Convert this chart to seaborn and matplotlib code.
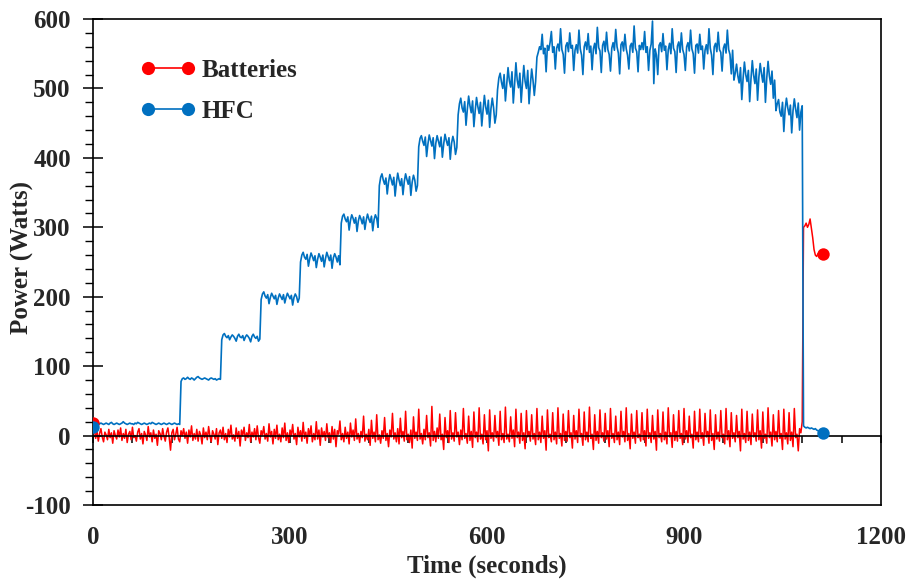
import numpy as np
import pandas as pd
import matplotlib
matplotlib.use("Agg")
import matplotlib.pyplot as plt
from matplotlib.lines import Line2D
from matplotlib.ticker import MultipleLocator
import seaborn as sns

sns.set_theme(style="white")
plt.rcParams["font.family"] = ["Liberation Serif", "DejaVu Serif"]
plt.rcParams["font.weight"] = "bold"
plt.rcParams["axes.unicode_minus"] = False

RED = "#FF0000"
BLUE = "#0070C0"

# HFC power (W), one sample every 2 s from 0 s to 1112 s
hfc_w = [
    # 0-132 s
    12, 14, 16, 17, 16, 17, 18, 17, 16, 17, 18, 17, 16, 18, 19, 17, 16, 17, 18, 17,
    16, 17, 18, 20, 18, 17, 16, 17, 18, 17, 17, 16, 18, 17, 19, 18, 17, 16, 17, 18,
    17, 16, 17, 18, 17, 19, 18, 17, 16, 17, 18, 17, 16, 17, 18, 17, 16, 17, 18, 17,
    16, 17, 18, 17, 16, 17, 16,
    # 134-194 s
    78, 82, 83, 81, 82, 84, 82, 81, 83, 82, 80, 82, 84, 85, 83, 82, 81, 82, 83, 82,
    81, 80, 82, 83, 82, 81, 82, 80, 81, 82, 81,
    # 196-254 s
    138, 145, 147, 143, 141, 144, 138, 142, 145, 143, 140, 136, 143, 146, 142, 141, 144, 137, 142, 145,
    143, 140, 135, 143, 146, 142, 140, 143, 136, 139,
    # 256-314 s
    196, 204, 207, 201, 198, 203, 190, 199, 205, 201, 197, 202, 189, 198, 204, 200, 196, 203, 191, 199,
    205, 201, 197, 202, 188, 199, 204, 200, 192, 198,
    # 316-376 s
    250, 260, 264, 257, 254, 261, 244, 255, 263, 258, 252, 259, 242, 254, 262, 257, 251, 260, 243, 255,
    264, 258, 252, 260, 241, 256, 262, 257, 250, 259, 246,
    # 378-434 s
    306, 316, 319, 312, 308, 315, 296, 310, 318, 313, 306, 314, 294, 309, 317, 312, 305, 315, 297, 310,
    319, 312, 307, 316, 295, 311, 318, 313, 300,
    # 436-494 s
    360, 372, 377, 368, 362, 371, 348, 365, 376, 369, 361, 372, 345, 364, 378, 368, 360, 370, 347, 366,
    377, 369, 362, 373, 346, 365, 375, 368, 352, 360,
    # 496-554 s
    416, 428, 432, 424, 418, 430, 402, 420, 433, 425, 417, 429, 399, 421, 432, 424, 416, 430, 401, 420,
    434, 425, 418, 429, 398, 421, 431, 423, 405, 415,
    # 556-614 s
    462, 478, 486, 472, 466, 481, 447, 470, 489, 475, 465, 482, 445, 468, 487, 474, 464, 480, 446, 469,
    490, 473, 463, 483, 444, 471, 486, 472, 450, 462,
    # 616-674 s
    498, 515, 522, 509, 500, 520, 482, 507, 530, 511, 502, 524, 479, 506, 537, 512, 501, 522, 480, 508,
    533, 510, 500, 526, 478, 505, 528, 512, 490, 510,
    # 676-974 s
    545, 552, 560, 556, 578, 550, 558, 524, 562, 555,
    566, 582, 552, 560, 528, 558, 564, 554, 586, 556,
    549, 522, 561, 566, 553, 580, 558, 562, 526, 555,
    563, 551, 584, 557, 548, 520, 560, 567, 556, 579,
    552, 561, 527, 557, 565, 550, 588, 559, 554, 523,
    562, 568, 553, 581, 556, 549, 525, 558, 566, 555,
    585, 560, 551, 521, 563, 567, 554, 578, 557, 548,
    528, 561, 565, 552, 590, 558, 553, 524, 562, 556,
    566, 556, 582, 552, 560, 526, 555, 564, 597, 507,
    557, 548, 520, 562, 566, 553, 579, 555, 561, 527,
    556, 565, 550, 586, 558, 553, 523, 561, 567, 552,
    580, 556, 549, 526, 560, 566, 554, 584, 557, 550,
    522, 562, 564, 551, 578, 556, 561, 528, 555, 563,
    550, 586, 558, 548, 520, 560, 565, 553, 581, 556,
    552, 525, 558, 564, 551, 584, 556, 549, 521, 555,
    # 976-1038 s
    512, 522, 535, 518, 508, 530, 484, 515, 538, 520, 510, 526, 481, 514, 540, 519, 507, 528, 483, 516,
    536, 521, 509, 530, 480, 515, 539, 518, 506, 525, 486, 512,
    # 1040-1080 s
    468, 478, 484, 466, 460, 480, 438, 470, 486, 472, 462, 476, 436, 468, 485, 470, 458, 479, 440, 466,
    475,
    # 1082-1112 s
    14, 12, 11, 12, 11, 10, 11, 10, 9, 10, 8, 7, 6, 5, 5, 4,
]

# Batteries power (W), same 2 s samples
battery_w = [
    # 0-398 s
    18, 8, -4, 6, -8, 3, 10, -2, -9, 5, 1, -6, 9, -3, 4, -11, 7, 0, -5, 8,
    -2, 11, -7, 3, -4, 9, -10, 2, 6, -6, 12, -3, 0, -8, 5, 10, -5, 3, -12, 6,
    1, -7, 13, -2, 4, -9, 8, -4, 2, -14, 7, 3, -6, 10, -1, -8, 5, 11, -3, -21,
    4, 9, -6, 2, 12, -5, -9, 7, 0, 10, -4, 5, -11, 8, -2, 14, -7, 3, -5, 9,
    -8, 6, 1, -12, 11, -3, 5, -6, 13, -1, -9, 7, 2, -5, 10, -13, 4, 8, -4, 12,
    -6, 3, -10, 9, -2, 15, -5, 1, -8, 11, -4, 6, -15, 8, 0, 12, -7, 4, -3, 16,
    -9, 5, -2, 10, -6, 14, -3, -11, 7, 1, 13, -5, 3, -8, 17, -2, 6, -12, 9, -4,
    15, -6, 2, -9, 11, -3, 18, -7, 4, -10, 8, 0, 16, -5, 3, -13, 12, -2, 7, -8,
    19, -4, 5, -11, 10, -1, 14, -9, 3, -6, 20, -5, 8, -14, 11, -2, 6, -7, 17, -3,
    4, -10, 13, -5, 9, -16, 7, 2, 21, -6, 3, -9, 12, -4, 5, -12, 18, -2, 8, -7,
    # 400-1080 s
    24, -5, 3, -10, 6, -3, 28, -8, 2, -6, 9, -14, 22, -4, 5, -9, 30, -6, 1, -11,
    7, -4, 26, -7, 3, -16, 8, -2, 32, -5, 4, -9, 10, -12, 25, -3, 6, -8, 35, -6,
    2, -10, 8, -18, 27, -4, 5, -7, 38, -5, 3, -12, 9, -6, 29, -3, 4, -15, 42, -7,
    6, -9, 11, -4, 31, -6, 2, -20, 26, -3, 7, -10, 36, -5, 4, -8, 33, -2, 5, -13,
    8, -6, 39, -4, 3, -11, 28, -7, 6, -17, 34, -3, 5, -9, 40, -5, 2, -12, 30, -6,
    7, -22, 37, -4, 4, -8, 29, -3, 6, -14, 35, -6, 3, -10, 41, -5, 2, -9, 27, -4,
    8, -16, 38, -3, 5, -11, 32, -7, 4, -19, 36, -2, 6, -8, 30, -5, 3, -13, 39, -6,
    5, -10, 28, -4, 7, -21, 37, -3, 2, -9, 33, -6, 5, -12, 40, -4, 3, -15, 31, -7,
    6, -8, 36, -3, 4, -18, 29, -5, 7, -10, 38, -2, 3, -14, 34, -6, 5, -9, 41, -4,
    2, -20, 30, -7, 6, -11, 37, -3, 4, -8, 32, -5, 7, -16, 39, -4, 3, -10, 28, -6,
    5, -13, 35, -2, 6, -9, 40, -7, 3, -19, 31, -4, 5, -11, 36, -3, 2, -8, 33, -6,
    7, -15, 38, -4, 4, -10, 29, -5, 6, -21, 37, -3, 3, -9, 34, -6, 5, -12, 40, -2,
    4, -17, 30, -7, 6, -8, 36, -4, 3, -13, 39, -5, 7, -10, 28, -3, 2, -18, 35, -6,
    5, -9, 38, -4, 4, -14, 32, -2, 6, -11, 37, -7, 3, -20, 30, -5, 5, -8, 36, -3,
    2, -12, 39, -6, 7, -16, 33, -4, 4, -9, 29, -3, 6, -22, 38, -5, 3, -10, 35, -7,
    5, -13, 31, -2, 4, -8, 37, -6, 7, -18, 34, -4, 2, -11, 40, -3, 5, -15, 30, -6,
    6, -9, 36, -4, 3, -20, 38, -5, 4, -12, 33, -7, 5, -16, 39, -3, 2, -22, 10, 4,
    20,
    # 1082-1112 s
    300, 302, 306, 300, 304, 312, 298, 285, 268, 260, 258, 262, 260, 263, 262, 262,
]

time_s = np.arange(0, 2 * len(hfc_w), 2)
df = pd.DataFrame({"time": time_s, "Batteries": battery_w, "HFC": hfc_w})

fig = plt.figure(figsize=(9.14, 5.80), dpi=100)
ax = fig.add_axes([0.1018, 0.1293, 0.8621, 0.8379])

sns.lineplot(data=df, x="time", y="Batteries", color=RED, lw=1.1,
             estimator=None, sort=False, ax=ax)
sns.lineplot(data=df, x="time", y="HFC", color=BLUE, lw=1.2,
             estimator=None, sort=False, ax=ax)

# markers only on the first and last sample
ends = df.iloc[[0, -1]]
sns.scatterplot(data=ends, x="time", y="Batteries", color=RED, s=80,
                linewidth=0, ax=ax, zorder=3)
sns.scatterplot(data=ends, x="time", y="HFC", color=BLUE, s=80,
                linewidth=0, ax=ax, zorder=4)

ax.set_xlim(0, 1200)
ax.set_ylim(-100, 600)

# x axis drawn through y = 0, labels at the bottom
ax.spines["bottom"].set_position(("data", 0))
ax.xaxis.set_major_locator(MultipleLocator(60))
ax.tick_params(axis="x", which="major", direction="out", length=5, width=1.1,
               color="black", labelbottom=False, bottom=True)
ax.set_xlabel("")

sec = ax.secondary_xaxis(0.0)
sec.set_xticks([0, 300, 600, 900, 1200])
sec.tick_params(axis="x", length=0, pad=15, labelsize=18)
sec.spines["bottom"].set_linewidth(1.2)
sec.spines["bottom"].set_color("black")
sec.set_xlabel("Time (seconds)", fontsize=18, fontweight="bold", labelpad=4)

ax.yaxis.set_major_locator(MultipleLocator(100))
ax.yaxis.set_minor_locator(MultipleLocator(20))
ax.tick_params(axis="y", which="major", direction="inout", length=14, width=1.1,
               color="black", left=True, labelsize=18, pad=9)
ax.tick_params(axis="y", which="minor", direction="out", length=6, width=1.0,
               color="black", left=True)
ax.set_ylabel("Power (Watts)", fontsize=18, fontweight="bold")
ax.yaxis.set_label_coords(-0.075, 0.51)

for side in ["left", "right", "top", "bottom"]:
    ax.spines[side].set_visible(True)
    ax.spines[side].set_color("black")
    ax.spines[side].set_linewidth(1.2)

handles = [
    Line2D([], [], color=RED, lw=1.2, marker="o", markersize=9.5, markeredgewidth=0),
    Line2D([], [], color=BLUE, lw=1.2, marker="o", markersize=9.5, markeredgewidth=0),
]
ax.legend(handles, ["Batteries", "HFC"], loc="upper left",
          bbox_to_anchor=(0.0603, 0.918), frameon=False, numpoints=2,
          handlelength=2.2, handletextpad=0.26, labelspacing=0.73,
          borderpad=0, borderaxespad=0, prop={"size": 18, "weight": "bold"})

fig.savefig("out.png", dpi=100, facecolor="white")
